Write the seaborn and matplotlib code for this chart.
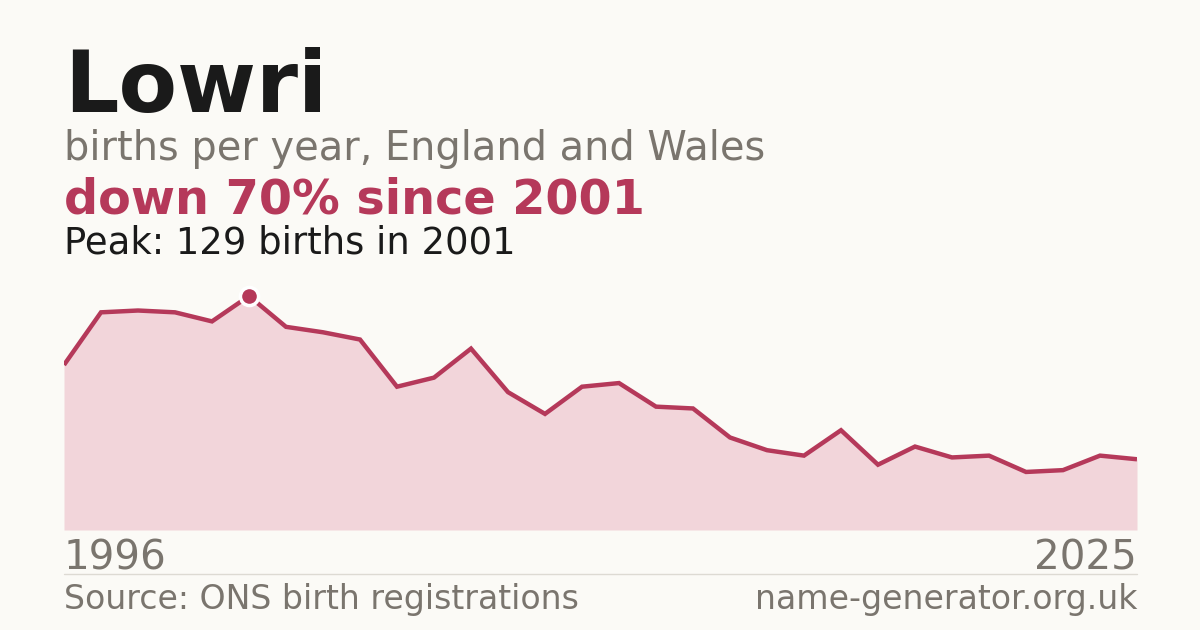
import numpy as np
import pandas as pd
import seaborn as sns
import matplotlib.pyplot as plt

# data
years = list(range(1996, 2026))
births = [91, 120, 121, 120, 115, 129, 112, 109, 105, 79,
          84, 100, 76, 64, 79, 81, 68, 67, 51, 44,
          41, 55, 36, 46, 40, 41, 32, 33, 41, 39]

name = "Lowri"
subtitle = "births per year, England and Wales"
source = "Source: ONS birth registrations"
site = "name-generator.org.uk"

BG = '#fbfaf6'
CRIMSON = '#b5395a'
FILL = '#f2d5da'
GRAY = '#7a756e'
DARK = '#1a1a1a'

df = pd.DataFrame({'year': years, 'births': births})
peak_idx = df['births'].idxmax()
peak_year = int(df.loc[peak_idx, 'year'])
peak_val = int(df.loc[peak_idx, 'births'])
change = round((peak_val - births[-1]) / peak_val * 100)

sns.set_theme(style='white')
plt.rcParams['font.family'] = ['DejaVu Sans']

W, H = 1200, 630
fig = plt.figure(figsize=(W / 100, H / 100), dpi=100, facecolor=BG)

# chart area in pixel terms
left, right, bottom, top = 64, 1137, 530, 280
ax = fig.add_axes([left / W, (H - bottom) / H, (right - left) / W, (bottom - top) / H])
ax.set_facecolor(BG)

ax.fill_between(df['year'], df['births'], 0, color=FILL, linewidth=0)
sns.lineplot(data=df, x='year', y='births', ax=ax, color=CRIMSON, linewidth=3.2,
             solid_capstyle='butt', solid_joinstyle='miter')
ax.scatter([peak_year], [peak_val], s=170, color=CRIMSON, edgecolor='white',
           linewidth=2.5, zorder=5, clip_on=False)

ax.set_xlim(years[0], years[-1])
ax.set_ylim(0, peak_val * 250 / 234)
ax.set_axis_off()


def px(x, y):
    return x / W, (H - y) / H


fig.text(*px(64, 112), name, fontsize=61.5, fontweight='bold', color=DARK, va='baseline')
fig.text(*px(64, 160), subtitle, fontsize=28.7, color=GRAY, va='baseline')
fig.text(*px(64, 214), f"down {change}% since {peak_year}", fontsize=34.4,
         fontweight='bold', color=CRIMSON, va='baseline')
fig.text(*px(64, 253), f"Peak: {peak_val} births in {peak_year}", fontsize=26.6,
         color=DARK, va='baseline')

fig.text(*px(64, 569), str(years[0]), fontsize=29.1, color=GRAY, va='baseline')
fig.text(*px(1137, 569), str(years[-1]), fontsize=29.1, color=GRAY, va='baseline', ha='right')

fig.add_artist(plt.Line2D([64 / W, 1137 / W], [(H - 574) / H] * 2, color='#dddad3', linewidth=1))

fig.text(*px(64, 609), source, fontsize=23.9, color=GRAY, va='baseline')
fig.text(*px(1137, 609), site, fontsize=23.9, color=GRAY, va='baseline', ha='right')

fig.savefig('out.png', dpi=100, facecolor=BG)
